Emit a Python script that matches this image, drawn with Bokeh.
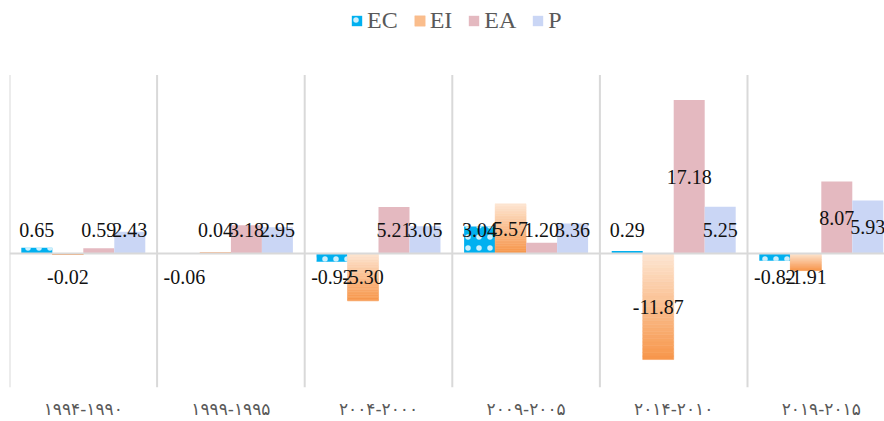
from bokeh.plotting import figure
from bokeh.models import (ColumnDataSource, Range1d, FixedTicker, Span, Legend, LegendItem)
from bokeh.core.properties import value
from bokeh.embed import file_html
from bokeh.resources import INLINE

# ---- data ----
periods = ["۱۹۹۴-۱۹۹۰", "۱۹۹۹-۱۹۹۵", "۲۰۰۴-۲۰۰۰", "۲۰۰۹-۲۰۰۵", "۲۰۱۴-۲۰۱۰", "۲۰۱۹-۲۰۱۵"]
series_names = ["EC", "EI", "EA", "P"]
EC = [0.65, -0.06, -0.92, 3.04, 0.29, -0.82]
EI = [-0.02, 0.04, -5.30, 5.57, -11.87, -1.91]
EA = [0.59, 3.18, 5.21, 1.20, 17.18, 8.07]
P = [2.43, 2.95, 3.05, 3.36, 5.25, 5.93]
Y_MIN, Y_MAX = -15, 20

# ---- layout constants ----
W, H = 884, 421
LEFT, BOTTOM = 9, 31
PLOT_TOP = 75          # pixel row where the value axis (and gridlines) start
BAR_W = 0.21
offsets = [-0.315, -0.105, 0.105, 0.315]
n = len(periods)
group_px = 147.6
frame_w = W - LEFT
frame_h = H - BOTTOM
x_end = frame_w / group_px
px_per_unit = (frame_h - PLOT_TOP) / (Y_MAX - Y_MIN)
y_top = Y_MAX + PLOT_TOP / px_per_unit

p = figure(width=W, height=H, output_backend="svg", toolbar_location=None,
           x_range=Range1d(0, x_end), y_range=Range1d(Y_MIN, y_top),
           min_border_left=LEFT, min_border_right=0, min_border_top=0, min_border_bottom=BOTTOM)
p.title.visible = False
p.outline_line_color = None
p.background_fill_color = "white"
p.border_fill_color = "white"

centers = [i + 0.5 for i in range(n)]
bounds = list(range(n + 1))

def xs(k):
    return [c + offsets[k] for c in centers]

# category gridlines (span only the value-axis extent)
p.segment(x0=bounds, y0=[Y_MIN] * len(bounds), x1=bounds, y1=[Y_MAX] * len(bounds),
          line_color="#D9D9D9", line_width=2)

# EC bars with dotted pattern
ec_src = ColumnDataSource(dict(x=xs(0), top=[max(v, 0) for v in EC], bottom=[min(v, 0) for v in EC]))
r_ec = p.vbar(x="x", top="top", bottom="bottom", width=BAR_W, source=ec_src,
              fill_color="#00B0F0", line_color=None, hatch_pattern="dot",
              hatch_color="white", hatch_scale=11, hatch_weight=0.6, hatch_alpha=0.8)

# EI bars with vertical gradient (light at top, orange at bottom)
def lerp(c1, c2, t):
    a = [int(c1[i:i+2], 16) for i in (1, 3, 5)]
    b = [int(c2[i:i+2], 16) for i in (1, 3, 5)]
    return "#%02x%02x%02x" % tuple(int(round(a[j] + (b[j] - a[j]) * t)) for j in range(3))

NS = 30
ei_x, ei_top, ei_bot, ei_col = [], [], [], []
for i, v in enumerate(EI):
    t0, b0 = max(v, 0), min(v, 0)
    for k in range(NS):
        ei_x.append(xs(1)[i])
        ei_top.append(t0 - (t0 - b0) * k / NS)
        ei_bot.append(t0 - (t0 - b0) * (k + 1) / NS)
        ei_col.append(lerp("#FDE6D3", "#F7964A", (k + 0.5) / NS))
ei_src = ColumnDataSource(dict(x=ei_x, top=ei_top, bottom=ei_bot, color=ei_col))
r_ei = p.vbar(x="x", top="top", bottom="bottom", width=BAR_W, source=ei_src,
              fill_color="color", line_color="color", line_width=0.5)

ea_src = ColumnDataSource(dict(x=xs(2), top=[max(v, 0) for v in EA], bottom=[min(v, 0) for v in EA]))
r_ea = p.vbar(x="x", top="top", bottom="bottom", width=BAR_W, source=ea_src,
              fill_color="#E4B9C0", line_color=None)

p_src = ColumnDataSource(dict(x=xs(3), top=[max(v, 0) for v in P], bottom=[min(v, 0) for v in P]))
r_p = p.vbar(x="x", top="top", bottom="bottom", width=BAR_W, source=p_src,
             fill_color="#CAD6F5", line_color=None)

# zero line
p.add_layout(Span(location=0, dimension="width", line_color="#D9D9D9", line_width=2))

# data labels
lab_x, lab_y, lab_t = [], [], []
for k, vals in enumerate([EC, EI, EA, P]):
    for i, v in enumerate(vals):
        lab_x.append(xs(k)[i])
        s = 1 if v >= 0 else -1
        lab_y.append(s * max(abs(v) / 2, 2.64))
        lab_t.append("%.2f" % v)
lab_src = ColumnDataSource(dict(x=lab_x, y=lab_y, t=lab_t))
p.text(x="x", y="y", text="t", source=lab_src, text_align="center", text_baseline="middle",
       text_font=value("Liberation Serif"), text_font_size="20px", text_color="#111111")

# axes and grid
p.yaxis.visible = False
p.ygrid.visible = False
p.xgrid.visible = False
p.xaxis.ticker = FixedTicker(ticks=centers)
p.xaxis.major_label_overrides = {c: lab for c, lab in zip(centers, periods)}
p.xaxis.axis_line_color = None
p.xaxis.major_tick_line_color = None
p.xaxis.minor_tick_line_color = None
p.xaxis.major_tick_out = 0
p.xaxis.major_tick_in = 0
p.xaxis.minor_tick_out = 0
p.xaxis.major_label_standoff = 11
p.xaxis.major_label_text_font = "DejaVu Sans"
p.xaxis.major_label_text_font_size = "17px"
p.xaxis.major_label_text_color = "#595959"

# legend (inside the frame's top strip, centred at y~22 from the top)
legend = Legend(items=[
    LegendItem(label="EC", renderers=[r_ec]),
    LegendItem(label="EI", renderers=[r_ei], index=NS // 2),
    LegendItem(label="EA", renderers=[r_ea]),
    LegendItem(label="P", renderers=[r_p]),
], orientation="horizontal", location=(341, frame_h - 37))
legend.label_text_font = "Liberation Serif"
legend.label_text_font_size = "24px"
legend.label_text_color = "#595959"
legend.glyph_width = 13
legend.glyph_height = 13
legend.label_standoff = 4
legend.spacing = 15
legend.padding = 0
legend.margin = 0
legend.border_line_color = None
legend.background_fill_alpha = 0
p.add_layout(legend, "center")

open("out.html", "w").write(file_html(p, INLINE))
